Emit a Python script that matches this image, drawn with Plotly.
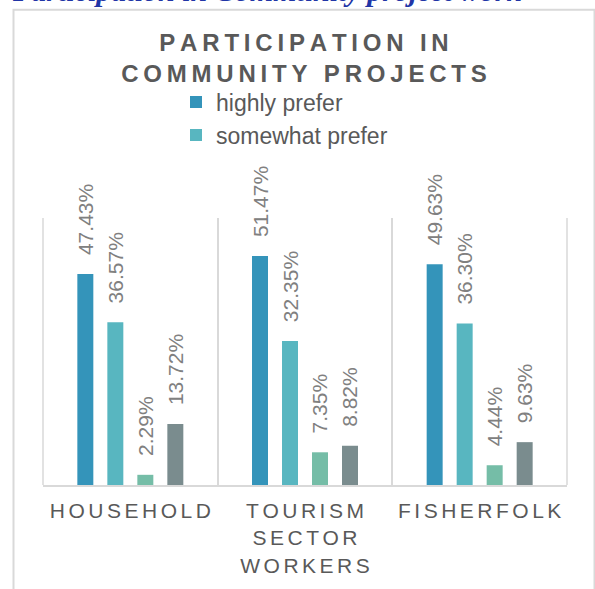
import plotly.graph_objects as go

# ---- data -------------------------------------------------------------
categories = ["HOUSEHOLD", "TOURISM SECTOR WORKERS", "FISHERFOLK"]
category_lines = [["HOUSEHOLD"], ["TOURISM", "SECTOR", "WORKERS"], ["FISHERFOLK"]]
highly_prefer = [47.43, 51.47, 49.63]
somewhat_prefer = [36.57, 32.35, 36.30]
least_prefer = [2.29, 7.35, 4.44]
not_prefer = [13.72, 8.82, 9.63]

series_names = ["highly prefer", "somewhat prefer", "least prefer", "not prefer"]
series_values = [highly_prefer, somewhat_prefer, least_prefer, not_prefer]
series_colors = ["#3494BA", "#58B6C0", "#75BDA7", "#7A8C8E"]
legend_shown = ["highly prefer", "somewhat prefer"]

chart_title = ["PARTICIPATION IN", "COMMUNITY PROJECTS"]
doc_heading = "Participation in Community project work"

# ---- layout geometry ----------------------------------------------------
W, H = 595, 589
M_L, M_R, M_T, M_B = 43, 28, 218, 101
PW, PH = W - M_L - M_R, H - M_T - M_B


def px_x(px):
    return (px - M_L) / PW


def px_y(py):
    return (H - M_B - py) / PH


def spaced(word, gap):
    return gap.join(word)


def spaced_line(line, gap):
    return (gap + " " + gap).join(spaced(w, gap) for w in line.split(" "))


THIN = "\u2009"
SIXTH = "\u2006"
NBSP = "\u00a0"

tick_text = ["<br>".join(spaced(w, SIXTH) for w in lines) for lines in category_lines]
title_text = "<br>".join(spaced_line(t, THIN) for t in chart_title)

fig = go.Figure()
for name, vals, color in zip(series_names, series_values, series_colors):
    fig.add_trace(go.Bar(
        x=categories, y=vals, name=name,
        marker=dict(color=color, line=dict(width=0)),
        texttemplate=NBSP * 2 + THIN + "%{y:.2f}%",
        textposition="outside", textangle=-90,
        textfont=dict(family="Liberation Sans, Arial", size=21, color="#808080"),
        constraintext="none", cliponaxis=False,
        showlegend=name in legend_shown,
    ))

# category separators at the outer edges of the plot area
edge_lines = [
    dict(type="line", xref="paper", yref="paper", layer="below",
         x0=xe, x1=xe, y0=0, y1=1, line=dict(color="#d9d9d9", width=1.5))
    for xe in (0, 1)
]

fig.update_layout(
    width=W, height=H,
    margin=dict(l=M_L, r=M_R, t=M_T, b=M_B, pad=0),
    paper_bgcolor="white", plot_bgcolor="white",
    barmode="group", bargap=0.313, bargroupgap=0.467,
    font=dict(family="Liberation Sans, Arial", color="#595959"),
    title=dict(
        text=title_text, xref="container", x=304 / W, xanchor="center",
        yref="container", y=1 - 51 / H, yanchor="top",
        font=dict(family="Liberation Sans, Arial", size=24, color="#595959", weight="bold"),
    ),
    legend=dict(
        x=px_x(176), y=px_y(79), xanchor="left", yanchor="top",
        font=dict(family="Liberation Sans, Arial", size=23, color="#595959"),
        bgcolor="rgba(0,0,0,0)", borderwidth=0,
    ),
    xaxis=dict(
        tickvals=categories, ticktext=tick_text, tickson="boundaries",
        showgrid=True, gridcolor="#d9d9d9", gridwidth=1.5,
        showline=True, linecolor="#d9d9d9", linewidth=1.5,
        ticks="", ticklabelstandoff=6, tickfont=dict(size=21, color="#595959"),
        fixedrange=True,
    ),
    yaxis=dict(range=[0, 60], visible=False, fixedrange=True),
    shapes=[dict(
        type="rect", xref="paper", yref="paper", layer="below",
        x0=px_x(13.5), x1=px_x(594.5), y0=px_y(640), y1=px_y(7.5),
        line=dict(color="#d9d9d9", width=2), fillcolor="rgba(0,0,0,0)",
    )] + edge_lines,
    annotations=[dict(
        text=doc_heading, xref="paper", yref="paper",
        x=px_x(10), y=px_y(6.5), xanchor="left", yanchor="bottom",
        showarrow=False,
        font=dict(family="Liberation Serif, Times New Roman", size=30,
                  color="#2135a6", weight="bold", style="italic"),
    )],
)

fig.write_html("out.html")
